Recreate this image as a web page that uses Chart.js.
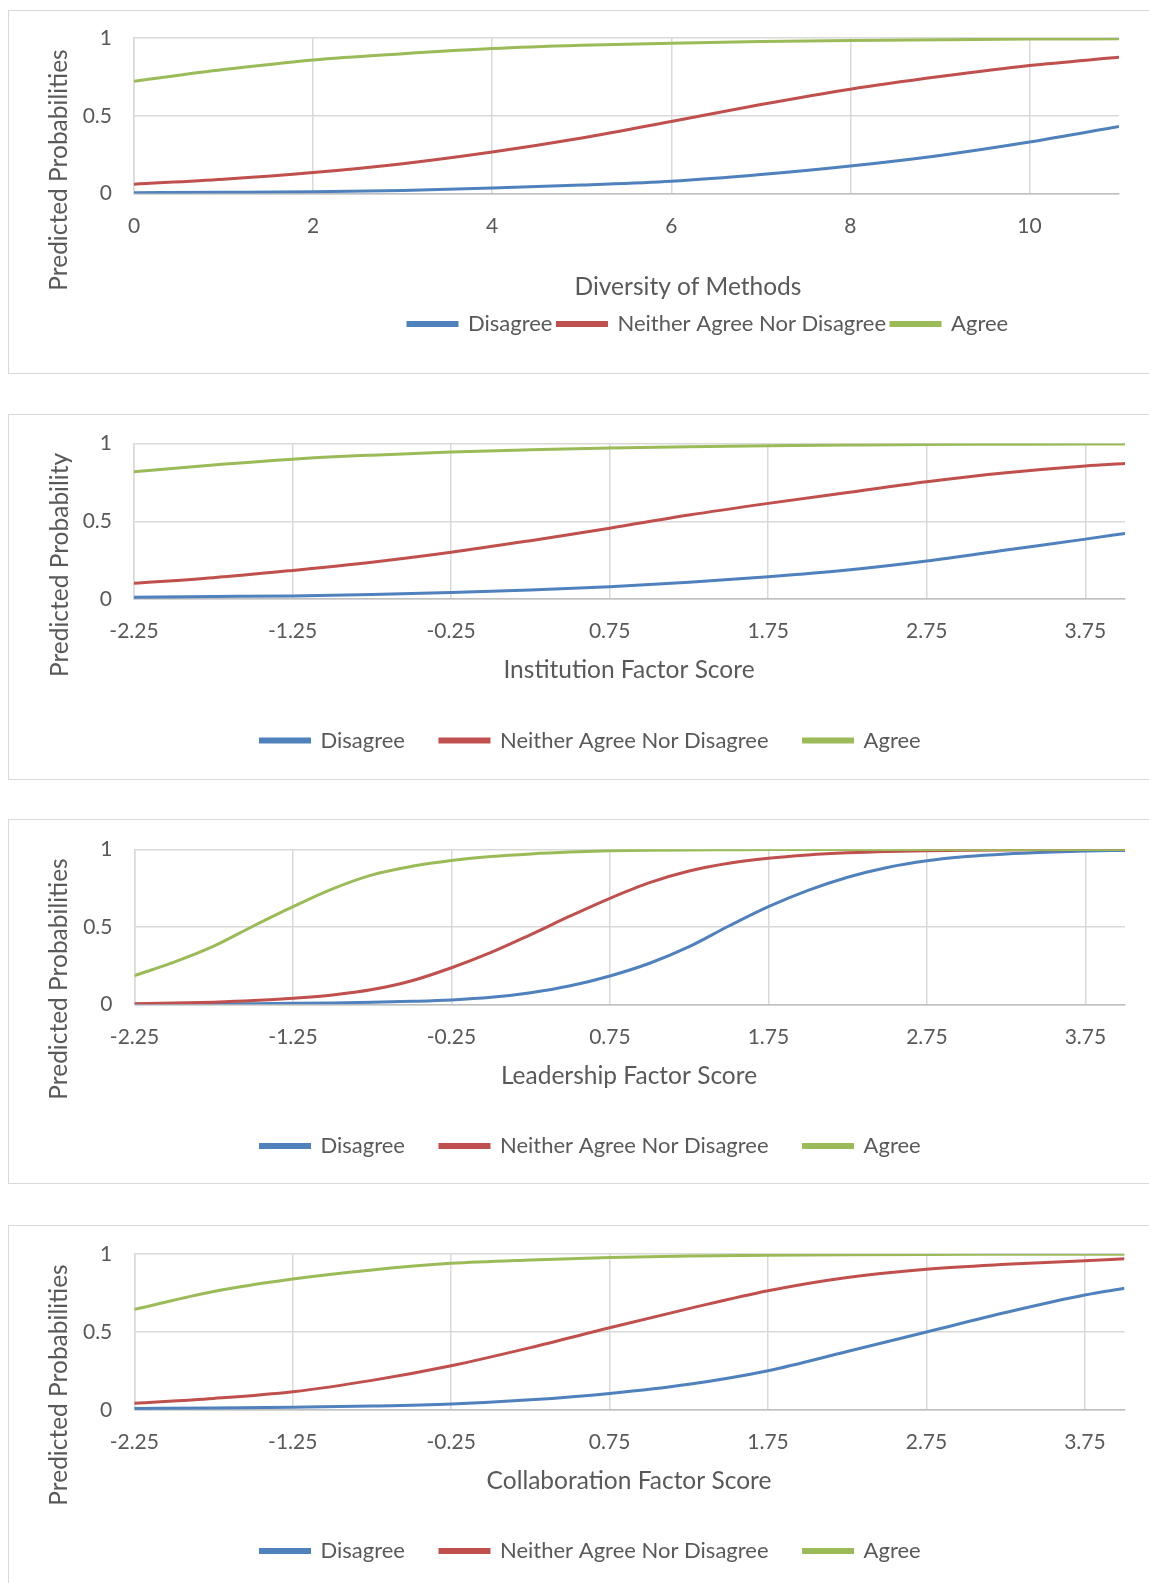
<!DOCTYPE html>
<html><head><meta charset="utf-8">
<script src="https://cdn.jsdelivr.net/npm/chart.js@4.4.1/dist/chart.umd.min.js"></script>
<style>
html,body{margin:0;padding:0;background:#fff;overflow:hidden;width:1149px;height:1583px;position:relative;}
.panel{position:absolute;left:8px;width:1160px;border:1px solid #d9d9d9;box-sizing:border-box;background:#fff;}
canvas{position:absolute;left:9px;}
</style></head><body>
<div class="panel" style="top:10px;height:364px"></div>
<div class="panel" style="top:414px;height:366px"></div>
<div class="panel" style="top:819px;height:365px"></div>
<div class="panel" style="top:1225px;height:400px"></div>
<canvas id="c1" width="1140" height="362" style="top:11px;width:1140px;height:362px"></canvas>
<canvas id="c2" width="1140" height="364" style="top:415px;width:1140px;height:364px"></canvas>
<canvas id="c3" width="1140" height="363" style="top:820px;width:1140px;height:363px"></canvas>
<canvas id="c4" width="1140" height="357" style="top:1226px;width:1140px;height:357px"></canvas>
<script>
// ---------------- DATA ----------------
const seriesNames = ['Disagree', 'Neither Agree Nor Disagree', 'Agree'];
const yTickValues = [0, 0.5, 1];
const yTickLabels = ['0', '0.5', '1'];

// Panel 1: Diversity of Methods
const methodsX = [0, 1, 2, 3, 4, 5, 6, 7, 8, 9, 10, 11];
const methodsDisagree = [0.005, 0.008, 0.012, 0.020, 0.035, 0.055, 0.079, 0.122, 0.177, 0.245, 0.331, 0.431];
const methodsNeither  = [0.060, 0.092, 0.135, 0.192, 0.267, 0.357, 0.463, 0.572, 0.671, 0.752, 0.823, 0.876];
const methodsAgree    = [0.722, 0.797, 0.859, 0.899, 0.932, 0.953, 0.967, 0.977, 0.984, 0.989, 0.993, 0.995];
const methodsTickValues = [0, 2, 4, 6, 8, 10];
const methodsTickLabels = ['0', '2', '4', '6', '8', '10'];

// Factor score x tick labels (panels 2-4)
const factorTickValues = [-2.25, -1.25, -0.25, 0.75, 1.75, 2.75, 3.75];
const factorTickLabels = ['-2.25', '-1.25', '-0.25', '0.75', '1.75', '2.75', '3.75'];

// Panel 2: Institution Factor Score
const institutionX = [-2.25, -1.75, -1.25, -0.75, -0.25, 0.25, 0.75, 1.25, 1.75, 2.25, 2.75, 3.25, 3.75, 4.0];
const institutionDisagree = [0.012, 0.016, 0.020, 0.029, 0.041, 0.058, 0.079, 0.108, 0.143, 0.186, 0.244, 0.315, 0.385, 0.422];
const institutionNeither  = [0.101, 0.137, 0.184, 0.236, 0.300, 0.375, 0.455, 0.540, 0.615, 0.685, 0.754, 0.812, 0.856, 0.871];
const institutionAgree    = [0.818, 0.862, 0.899, 0.925, 0.946, 0.960, 0.971, 0.979, 0.985, 0.990, 0.994, 0.995, 0.996, 0.996];

// Panel 3: Leadership Factor Score
const leadershipX = [-2.25, -2.0, -1.75, -1.5, -1.25, -1.0, -0.75, -0.5, -0.25, 0, 0.25, 0.5, 0.75, 1.0, 1.25, 1.5, 1.75, 2.0, 2.25, 2.5, 2.75, 3.0, 3.25, 3.5, 3.75, 4.0];
const leadershipDisagree = [0.001, 0.002, 0.003, 0.004, 0.006, 0.009, 0.013, 0.019, 0.028, 0.045, 0.075, 0.120, 0.183, 0.265, 0.372, 0.505, 0.630, 0.735, 0.820, 0.883, 0.926, 0.953, 0.970, 0.981, 0.989, 0.993];
const leadershipNeither  = [0.004, 0.008, 0.014, 0.024, 0.039, 0.060, 0.095, 0.152, 0.236, 0.335, 0.450, 0.570, 0.684, 0.785, 0.860, 0.910, 0.942, 0.963, 0.977, 0.986, 0.991, 0.994, 0.996, 0.997, 0.998, 0.998];
const leadershipAgree    = [0.185, 0.272, 0.375, 0.505, 0.630, 0.745, 0.835, 0.890, 0.928, 0.953, 0.970, 0.982, 0.990, 0.994, 0.996, 0.997, 0.998, 0.998, 0.999, 0.999, 0.999, 0.999, 0.999, 0.999, 0.999, 0.999];

// Panel 4: Collaboration Factor Score
const collaborationX = [-2.25, -1.75, -1.25, -0.75, -0.25, 0.25, 0.75, 1.25, 1.75, 2.25, 2.75, 3.25, 3.75, 4.0];
const collaborationDisagree = [0.010, 0.013, 0.018, 0.025, 0.038, 0.065, 0.106, 0.165, 0.252, 0.375, 0.500, 0.625, 0.737, 0.780];
const collaborationNeither  = [0.043, 0.074, 0.117, 0.190, 0.284, 0.400, 0.527, 0.650, 0.765, 0.850, 0.903, 0.934, 0.957, 0.970];
const collaborationAgree    = [0.645, 0.760, 0.840, 0.898, 0.940, 0.962, 0.978, 0.987, 0.992, 0.995, 0.997, 0.998, 0.999, 0.999];

// ---------------- STYLE ----------------
const FONT = 'Lato';
const TICK_FS = 21;
const LEG_FS = 22;
const TITLE_FS = 24.5;
const TEXT = '#595959';
const COLORS = ['#4F81BD', '#C0504D', '#9BBB59'];

const axisTitles = {
  id: 'axisTitles',
  afterDraw(chart, args, o) {
    const ctx = chart.ctx;
    ctx.save();
    ctx.font = TITLE_FS + 'px ' + FONT;
    ctx.fillStyle = TEXT;
    ctx.textAlign = 'center';
    ctx.textBaseline = 'middle';
    ctx.fillText(o.xText, o.xPos[0], o.xPos[1]);
    ctx.translate(o.yPos[0], o.yPos[1]);
    ctx.rotate(-Math.PI / 2);
    ctx.fillText(o.yText, 0, 0);
    ctx.restore();
  }
};
const legendPlace = {
  id: 'legendPlace',
  afterLayout(chart, args, o) {
    const lg = chart.legend;
    if (!lg) return;
    const pad = lg.options.labels.padding;
    const h = lg.height;
    lg.left = o.x - pad;
    lg.right = lg.left + 3000;
    lg.top = o.y - pad - LEG_FS / 2;
    lg.bottom = lg.top + h;
  }
};

function makeChart(id, p) {
  const ds = [p.d, p.n, p.a].map((arr, i) => ({
    label: seriesNames[i],
    data: p.xs.map((x, j) => ({x: x, y: arr[j]})),
    borderColor: COLORS[i],
    backgroundColor: COLORS[i],
    borderWidth: 3,
    pointRadius: 0,
    fill: false,
    cubicInterpolationMode: 'monotone',
    order: 3 - i
  }));
  return new Chart(document.getElementById(id), {
    type: 'line',
    data: {datasets: ds},
    plugins: [axisTitles, legendPlace],
    options: {
      responsive: false,
      animation: false,
      events: [],
      layout: {padding: {top: p.top, right: p.right, left: 0, bottom: 0}},
      plugins: {
        tooltip: {enabled: false},
        legend: {
          display: true, position: 'bottom', align: 'start',
          labels: {boxWidth: 49, boxHeight: 3, padding: p.legPad, color: TEXT,
                   font: {family: FONT, size: LEG_FS},
                   sort: (a, b) => a.datasetIndex - b.datasetIndex}
        },
        axisTitles: {xText: p.xTitle, xPos: p.xTitlePos, yText: p.yTitle, yPos: p.yTitlePos},
        legendPlace: {x: p.legX, y: p.legY}
      },
      scales: {
        x: {
          type: 'linear', min: p.xMin, max: p.xMax,
          afterBuildTicks: s => { s.ticks = p.tickValues.map(v => ({value: v})); },
          afterFit: s => {
            s.height = s.chart.height - s.chart.legend.height - p.bottom;
            s.paddingLeft = 0; s.paddingRight = 0;
          },
          ticks: {autoSkip: false, maxRotation: 0, padding: 20, color: TEXT,
                  font: {family: FONT, size: TICK_FS},
                  callback: (v, i) => p.tickLabels[i]},
          grid: {color: '#d9d9d9', lineWidth: 1.5, drawTicks: false},
          border: {color: '#bfbfbf', width: 1.5}
        },
        y: {
          min: 0, max: 1,
          afterBuildTicks: s => { s.ticks = yTickValues.map(v => ({value: v})); },
          afterFit: s => { s.width = p.left; s.paddingTop = 0; s.paddingBottom = 0; },
          ticks: {padding: 22, color: TEXT, font: {family: FONT, size: TICK_FS},
                  callback: (v, i) => yTickLabels[i]},
          grid: {color: '#d9d9d9', lineWidth: 1.5, drawTicks: false},
          border: {color: '#d9d9d9', width: 1.5}
        }
      }
    }
  });
}

makeChart('c1', {
  xs: methodsX, d: methodsDisagree, n: methodsNeither, a: methodsAgree,
  xMin: 0, xMax: 11, tickValues: methodsTickValues, tickLabels: methodsTickLabels,
  left: 125, right: 30, top: 27, bottom: 182.5,
  xTitle: 'Diversity of Methods', xTitlePos: [679, 276],
  yTitle: 'Predicted Probabilities', yTitlePos: [50, 159],
  legX: 399, legY: 313, legPad: 5
});
makeChart('c2', {
  xs: institutionX, d: institutionDisagree, n: institutionNeither, a: institutionAgree,
  xMin: -2.25, xMax: 4.0, tickValues: factorTickValues, tickLabels: factorTickLabels,
  left: 125, right: 24, top: 28.5, bottom: 184,
  xTitle: 'Institution Factor Score', xTitlePos: [620, 255],
  yTitle: 'Predicted Probability', yTitlePos: [51, 150],
  legX: 251.5, legY: 325.5, legPad: 35
});
makeChart('c3', {
  xs: leadershipX, d: leadershipDisagree, n: leadershipNeither, a: leadershipAgree,
  xMin: -2.25, xMax: 4.0, tickValues: factorTickValues, tickLabels: factorTickLabels,
  left: 125.5, right: 24, top: 29.3, bottom: 184.3,
  xTitle: 'Leadership Factor Score', xTitlePos: [620, 256],
  yTitle: 'Predicted Probabilities', yTitlePos: [50, 159],
  legX: 251.5, legY: 326, legPad: 35
});
makeChart('c4', {
  xs: collaborationX, d: collaborationDisagree, n: collaborationNeither, a: collaborationAgree,
  xMin: -2.25, xMax: 4.0, tickValues: factorTickValues, tickLabels: factorTickLabels,
  left: 125.3, right: 24.5, top: 28, bottom: 184,
  xTitle: 'Collaboration Factor Score', xTitlePos: [620, 255],
  yTitle: 'Predicted Probabilities', yTitlePos: [50, 159],
  legX: 251.5, legY: 325, legPad: 35
});
</script>
</body></html>
